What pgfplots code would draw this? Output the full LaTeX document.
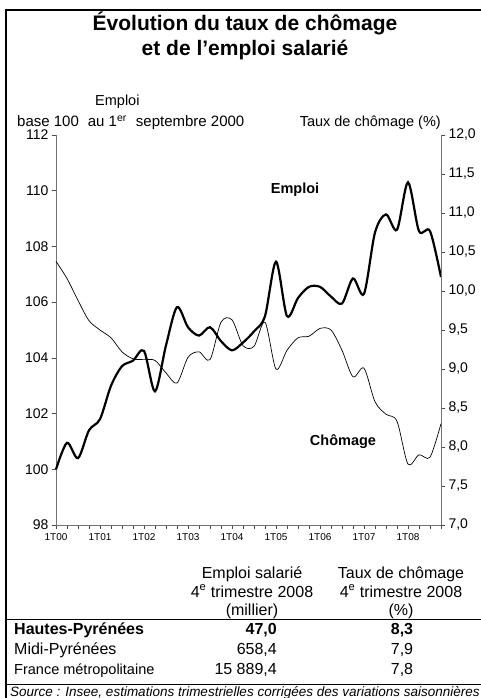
\documentclass[border=0pt]{standalone}
\usepackage{pgfplots}
\pgfplotsset{compat=1.18}
\usepackage{fontspec}
\setmainfont{Liberation Sans}
\begin{document}
\begin{tikzpicture}
\useasboundingbox (0pt,0pt) rectangle (481pt,-698pt);
% frame
\draw[line width=2pt] (6pt,-698pt) -- (6pt,-10pt) -- (482pt,-10pt);
% title
\node[anchor=base, font=\bfseries\fontsize{21}{24}\selectfont] at (245pt,-31pt) {Évolution du taux de chômage};
\node[anchor=base, font=\bfseries\fontsize{21}{24}\selectfont] at (245pt,-56pt) {et de l’emploi salarié};
% axis titles
\node[anchor=base west, font=\fontsize{14.5}{16}\selectfont, inner sep=0pt] at (95pt,-106pt) {Emploi};
\node[anchor=base west, font=\fontsize{15}{17}\selectfont, inner sep=0pt] at (17pt,-127pt) {base 100\hspace{9pt}au 1\textsuperscript{er}\hspace{9pt}septembre 2000};
\node[anchor=base east, font=\fontsize{14.5}{16}\selectfont, inner sep=0pt] at (441pt,-127pt) {Taux de chômage (\%)};

\begin{axis}[
  at={(56pt,-525pt)}, anchor=south west, scale only axis,
  width=385pt, height=390pt,
  xmin=0, xmax=35, ymin=98, ymax=112,
  axis x line*=bottom, axis y line*=left,
  axis line style={black!55, line width=0.8pt},
  xtick={0,4,...,32},
  xticklabels={1T00,1T01,1T02,1T03,1T04,1T05,1T06,1T07,1T08},
  minor xtick={0,...,35},
  ytick={98,100,...,112},
  tick align=outside,
  major tick length=4pt, minor tick length=4pt,
  tick style={black!70, line width=0.6pt},
  xticklabel style={font=\fontsize{10}{11}\selectfont, yshift=-1pt},
  yticklabel style={font=\fontsize{14}{16}\selectfont},
  /pgf/number format/assume math mode=true,
  clip=false,
]
\addplot[black, line width=2.2pt, smooth, tension=0.5] coordinates {
(0,100.0) (1,100.95) (2,100.4) (3,101.4) (4,101.8) (5,103.0) (6,103.7) (7,103.9)
(8,104.25) (9,102.8) (10,104.45) (11,105.82) (12,105.1) (13,104.8) (14,105.1) (15,104.6)
(16,104.27) (17,104.55) (18,104.95) (19,105.5) (20,107.45) (21,105.5) (22,106.15) (23,106.55)
(24,106.55) (25,106.2) (26,105.95) (27,106.85) (28,106.3) (29,108.5) (30,109.15) (31,108.6)
(32,110.3) (33,108.55) (34,108.55) (35,106.9)
};
\end{axis}

\begin{axis}[
  at={(56pt,-525pt)}, anchor=south west, scale only axis,
  width=385pt, height=390pt,
  xmin=0, xmax=35, ymin=7, ymax=12,
  hide x axis,
  axis y line*=right,
  axis line style={black!55, line width=0.8pt},
  ytick={7,7.5,...,12},
  tick align=outside,
  major tick length=4pt,
  tick style={black!70, line width=0.6pt},
  yticklabel style={font=\fontsize{14}{16}\selectfont,
    /pgf/number format/.cd, fixed, fixed zerofill, precision=1, use comma},
  /pgf/number format/assume math mode=true,
  clip=false,
]
\addplot[black, line width=0.7pt, smooth, tension=0.5] coordinates {
(0,10.38) (1,10.16) (2,9.88) (3,9.62) (4,9.5) (5,9.4) (6,9.22) (7,9.13)
(8,9.12) (9,9.11) (10,8.95) (11,8.82) (12,9.15) (13,9.22) (14,9.12) (15,9.6)
(16,9.63) (17,9.3) (18,9.29) (19,9.6) (20,9.0) (21,9.24) (22,9.4) (23,9.42)
(24,9.52) (25,9.5) (26,9.24) (27,8.9) (28,9.01) (29,8.58) (30,8.42) (31,8.33)
(32,7.78) (33,7.9) (34,7.87) (35,8.3)
};
\end{axis}

% curve labels
\node[font=\bfseries\fontsize{14.5}{16}\selectfont] at (295pt,-190pt) {Emploi};
\node[font=\bfseries\fontsize{14.5}{16}\selectfont] at (343pt,-442pt) {Chômage};

% table header
\begin{scope}[every node/.style={anchor=base, inner sep=0pt, font=\fontsize{16}{18}\selectfont}]
\node at (252pt,-578pt) {Emploi salarié};
\node at (252pt,-597pt) {4\textsuperscript{e} trimestre 2008};
\node at (252pt,-615pt) {(millier)};
\node at (401pt,-578pt) {Taux de chômage};
\node at (401pt,-597pt) {4\textsuperscript{e} trimestre 2008};
\node at (401pt,-615pt) {(\%)};
\end{scope}
\draw[line width=0.8pt] (6pt,-619pt) -- (482pt,-619pt);
\begin{scope}[every node/.style={inner sep=0pt, font=\fontsize{16}{18}\selectfont}]
\node[anchor=base west, font=\bfseries\fontsize{16}{18}\selectfont] at (14pt,-634pt) {Hautes-Pyrénées};
\node[anchor=base east, font=\bfseries\fontsize{16}{18}\selectfont] at (277pt,-634pt) {47,0};
\node[anchor=base, font=\bfseries\fontsize{16}{18}\selectfont] at (402pt,-634pt) {8,3};
\node[anchor=base west] at (14pt,-654pt) {Midi-Pyrénées};
\node[anchor=base east] at (277pt,-654pt) {658,4};
\node[anchor=base] at (402pt,-654pt) {7,9};
\node[anchor=base west, font=\fontsize{14.5}{16}\selectfont] at (14pt,-674pt) {France métropolitaine};
\node[anchor=base east] at (277pt,-674pt) {15 889,4};
\node[anchor=base] at (402pt,-674pt) {7,8};
\end{scope}
\draw[line width=0.8pt] (6pt,-684pt) -- (482pt,-684pt);
\node[anchor=base west, inner sep=0pt, font=\itshape\fontsize{13.5}{15}\selectfont] at (10pt,-696pt) {Source : Insee, estimations trimestrielles corrigées des variations saisonnières};
\end{tikzpicture}
\end{document}
